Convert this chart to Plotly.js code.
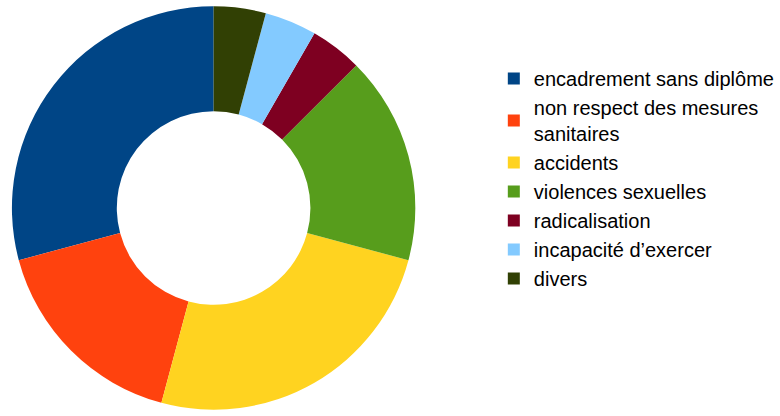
<!DOCTYPE html>
<html>
<head>
<meta charset="utf-8">
<script src="https://cdn.plot.ly/plotly-3.0.1.min.js"></script>
<style>html,body{margin:0;padding:0;background:#fff;}#chart{width:780px;height:416px;}</style>
</head>
<body>
<div id="chart"></div>
<script>
const categories = [
  "encadrement sans diplôme",
  "non respect des mesures<br>sanitaires",
  "accidents",
  "violences sexuelles",
  "radicalisation",
  "incapacité d’exercer",
  "divers"
];
const counts = [7, 4, 6, 4, 1, 1, 1];
const colors = ["#004586", "#ff420e", "#ffd320", "#579d1c", "#7e0021", "#83caff", "#314004"];

const W = 780, H = 416;
Plotly.newPlot("chart", [{
  type: "pie",
  labels: categories,
  values: counts,
  hole: 0.48,
  sort: false,
  direction: "counterclockwise",
  rotation: -105,
  textinfo: "none",
  hoverinfo: "label+value",
  marker: {colors: colors, line: {width: 0}},
  domain: {x: [12 / W, 418 / W], y: [3 / H, 413 / H]}
}], {
  width: W, height: H,
  margin: {l: 0, r: 0, t: 0, b: 0},
  paper_bgcolor: "#fff",
  showlegend: true,
  legend: {
    x: 497 / W, y: 1 - 59 / H, xanchor: "left", yanchor: "top",
    font: {family: "Liberation Sans, Arial, sans-serif", size: 20, color: "#000"},
    traceorder: "normal"
  }
}, {displayModeBar: false, staticPlot: true});
</script>
</body>
</html>
